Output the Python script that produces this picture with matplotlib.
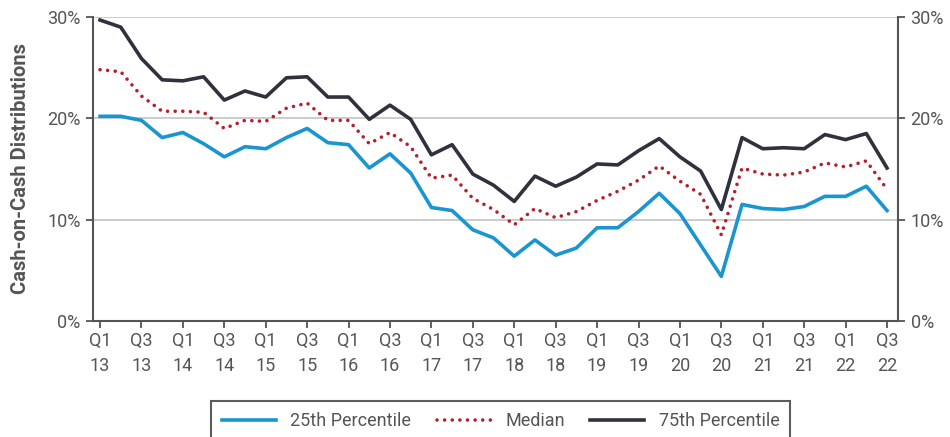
import matplotlib.pyplot as plt
from matplotlib import font_manager

# Quarterly cash-on-cash distributions (%), Q1 2013 .. Q3 2022
quarters = [f"Q{q}\n{y:02d}" for y in range(13, 23) for q in (1, 2, 3, 4)][:39]
p25 = [20.2, 20.2, 19.8, 18.1, 18.6, 17.5, 16.2, 17.2, 17.0, 18.1,
       19.0, 17.6, 17.4, 15.1, 16.5, 14.6, 11.2, 10.9, 9.0, 8.2,
       6.4, 8.0, 6.5, 7.2, 9.2, 9.2, 10.8, 12.6, 10.6, 7.5,
       4.4, 11.5, 11.1, 11.0, 11.3, 12.3, 12.3, 13.3, 10.9]
median = [24.8, 24.6, 22.2, 20.7, 20.7, 20.6, 19.0, 19.8, 19.7, 21.0,
          21.5, 19.8, 19.8, 17.5, 18.6, 17.2, 14.1, 14.4, 12.1, 11.0,
          9.5, 11.1, 10.2, 10.8, 11.9, 12.8, 13.9, 15.3, 13.8, 12.5,
          8.5, 15.1, 14.5, 14.4, 14.7, 15.6, 15.2, 15.8, 13.0]
p75 = [29.7, 29.0, 25.9, 23.8, 23.7, 24.1, 21.8, 22.7, 22.1, 24.0,
       24.1, 22.1, 22.1, 19.9, 21.3, 19.9, 16.4, 17.4, 14.5, 13.4,
       11.8, 14.3, 13.3, 14.2, 15.5, 15.4, 16.8, 18.0, 16.2, 14.8,
       11.0, 18.1, 17.0, 17.1, 17.0, 18.4, 17.9, 18.5, 15.1]
y_ticks = [0, 10, 20, 30]

names = {f.name for f in font_manager.fontManager.ttflist}
fam = "Liberation Sans Narrow" if "Liberation Sans Narrow" in names else "Roboto"
plt.rcParams["font.family"] = [fam, "DejaVu Sans"]

grey = "#555555"
fig = plt.figure(figsize=(9.5, 4.37), dpi=100)
ax = fig.add_axes([93 / 950, 1 - 321 / 437, (898 - 93) / 950, (321 - 17) / 437])

x = list(range(len(quarters)))
ax.plot(x, p25, color="#1a95d2", lw=2.6, label="25th Percentile", zorder=3)
ax.plot(x, median, color="#b5202e", lw=2.6, ls=(0, (0.01, 2.1)),
        dash_capstyle="round", label="Median", zorder=3)
ax.plot(x, p75, color="#2f323d", lw=2.6, label="75th Percentile", zorder=3)

ax.set_xlim(-0.34, 38.53)
ax.set_ylim(0, 30)
ax.set_yticks(y_ticks)
ax.set_yticklabels([f"{v}%" for v in y_ticks])
ax.set_xticks(x[::2])
ax.set_xticklabels(quarters[::2])
ax.grid(axis="y", color="#c8c8c8", lw=1.3, zorder=0)

for s in ("left", "right", "bottom"):
    ax.spines[s].set_color("#555555")
    ax.spines[s].set_linewidth(1.5)
ax.spines["top"].set_visible(False)
ax.tick_params(axis="both", colors="#555555", labelcolor=grey, labelsize=13,
               width=1.3, length=5)
ax.tick_params(axis="y", right=True, labelright=True, pad=4)
ax.tick_params(axis="x", pad=3)
for t in ax.get_xticklabels():
    t.set_linespacing(1.5)

ax.set_ylabel("Cash-on-Cash Distributions", color=grey, fontsize=14.5,
              fontweight="bold", labelpad=12)

leg = fig.legend(loc="lower center", bbox_to_anchor=(0.527, -0.03), ncol=3,
                 frameon=True, fancybox=False, edgecolor="#333333",
                 fontsize=13, handlelength=3.0, columnspacing=1.4,
                 labelcolor=grey, borderpad=0.6)
leg.get_frame().set_linewidth(1.5)

fig.savefig("out.png", dpi=100)
